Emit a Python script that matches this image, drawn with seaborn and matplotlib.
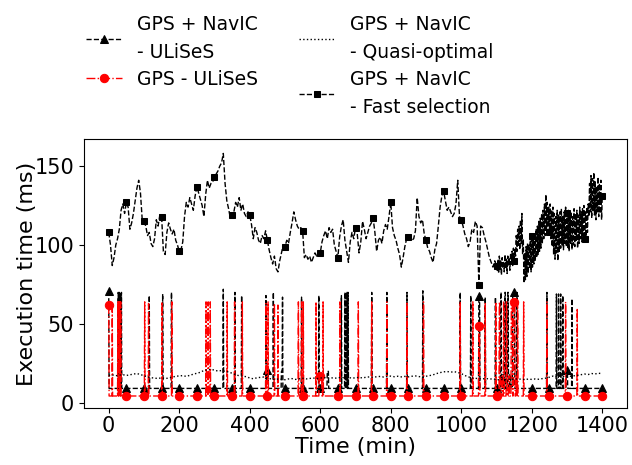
import numpy as np
import pandas as pd
import matplotlib
matplotlib.use("Agg")
import matplotlib.pyplot as plt
import seaborn as sns

sns.set_style("ticks", {"axes.edgecolor": "black", "xtick.color": "black",
                        "ytick.color": "black", "text.color": "black",
                        "axes.labelcolor": "black"})
plt.rcParams["font.family"] = ["DejaVu Sans"]

# ---- data ----
minutes = np.arange(0, 1401)  # 1-minute samples

# GPS + NavIC - ULiSeS: baseline + spike events (start min, length min, value ms)
navic_base = 9.2
navic_ev_start = [0, 27, 30, 33, 36, 115, 153, 178, 325, 358, 377, 446, 448, 467,
                  490, 493, 547, 596, 620, 660, 670, 673, 676, 679, 746, 789, 846,
                  891, 997, 1027, 1050, 1068, 1097, 1112, 1118, 1124, 1132, 1138,
                  1146, 1158, 1243, 1270, 1276, 1282, 1288, 1298, 1314]
navic_ev_len = [1] * 12 + [5, 1, 4, 1, 1, 1, 4] + [1] * 11 + [3, 1, 1] + \
               [2, 3, 2, 2, 3, 6, 1] + [1] * 5 + [4, 1]
navic_ev_val = [71, 70, 70, 69, 70, 68, 69, 70, 72, 70, 68, 68, 21, 70, 20, 67, 67,
                68, 20, 68, 70, 70, 70, 70, 70, 70, 70, 71, 70, 68, 68, 67, 67,
                70, 18, 70, 70, 18, 70, 70, 70, 69, 69, 69, 68, 21, 66]

# GPS - ULiSeS
gps_base = 4.4
gps_ev_start = [0, 10, 26, 28, 30, 32, 34, 102, 113, 151, 179, 276, 282, 288, 336,
                357, 379, 446, 452, 470, 480, 538, 547, 552, 588, 597, 608, 656, 708,
                746, 789, 846, 893, 997, 1033, 1050, 1068, 1098, 1108, 1114, 1120,
                1128, 1134, 1142, 1148, 1156, 1160, 1177, 1243, 1296, 1329]
gps_ev_len = [1] * 25 + [8] + [1] * 9 + [3, 1, 1] + [2, 3, 2, 2, 3, 4, 5, 2] + [1] * 5
gps_ev_val = [62, 60, 64, 64, 64, 64, 64, 64, 63, 64, 64, 64, 64, 64, 64, 64, 64,
              63, 64, 63, 62, 64, 64, 64, 64, 17, 64, 64, 64, 64, 64, 64, 64, 64,
              64, 49, 63, 64, 64, 17, 64, 64, 17, 62, 64, 17, 64, 64, 64, 64, 60]

# GPS + NavIC - Quasi-optimal, every 10 min
quasi_t = np.arange(0, 1401, 10)
quasi_val = [17.5, 17.8, 17.2, 17.6, 17.9, 17.4, 17.8,
             18.3, 18.6, 18.0, 17.2, 16.5, 16.0, 15.7,
             15.5, 15.9, 15.4, 15.8, 16.3, 16.9, 17.1,
             17.3, 16.8, 17.5, 18.2, 18.8, 19.4, 20.6,
             20.9, 21.4, 20.7, 20.2, 20.5, 20.0, 19.6,
             18.8, 17.9, 17.2, 17.0, 16.6, 15.8, 15.3,
             15.9, 16.2, 16.4, 15.9, 15.2, 14.8, 15.1,
             15.0, 14.7, 15.2, 15.4, 14.9, 15.3, 15.6,
             15.2, 15.5, 15.8, 15.4, 15.7, 16.1, 15.8,
             16.0, 15.6, 15.9, 16.2, 15.8, 16.1, 15.7,
             15.9, 16.2, 15.8, 16.3, 16.5, 16.2, 16.6,
             16.8, 16.4, 16.7, 17.0, 16.6, 16.9, 16.5,
             16.8, 16.5, 16.9, 17.1, 16.7, 16.4, 16.9,
             17.3, 17.8, 18.6, 19.2, 19.7, 19.9, 19.5,
             19.8, 19.3, 18.6, 17.4, 16.5, 15.9, 15.6,
             15.4, 15.2, 15.5, 15.1, 15.3, 14.8, 14.6,
             15.0, 14.7, 15.2, 14.9, 15.3, 15.0, 14.8,
             15.1, 14.9, 15.2, 15.0, 15.4, 15.7, 16.3,
             17.0, 16.6, 17.3, 16.8, 17.4, 16.9, 17.2,
             17.5, 17.9, 18.3, 18.0, 18.6, 18.4, 18.8,
             18.5]

# GPS + NavIC - Fast selection: every 5 min up to 1100, then every 2 min
fast_t = np.concatenate([np.arange(0, 1101, 5), np.arange(1102, 1401, 2)])
fast_val = [108, 100, 87, 92, 100, 104, 110, 122, 126, 120,
            127, 124, 110, 114, 120, 128, 136, 141, 133, 116,
            115, 112, 106, 108, 101, 99, 104, 116, 112, 119,
            118, 96, 94, 108, 114, 110, 107, 110, 103, 100,
            96, 97, 102, 118, 127, 124, 130, 126, 122, 131,
            137, 133, 129, 125, 118, 132, 141, 136, 139, 140,
            143, 145, 147, 150, 152, 158, 139, 128, 123, 117,
            119, 121, 127, 124, 130, 122, 126, 120, 118, 121,
            119, 113, 104, 111, 108, 103, 101, 106, 104, 109,
            103, 97, 92, 88, 93, 85, 83, 90, 95, 100,
            99, 103, 101, 108, 114, 121, 116, 112, 110, 111,
            109, 92, 94, 91, 93, 89, 92, 95, 93, 96,
            95, 102, 106, 109, 104, 111, 108, 110, 100, 96,
            92, 105, 112, 116, 103, 96, 89, 102, 108, 104,
            111, 107, 95, 102, 115, 110, 104, 108, 112, 114,
            117, 108, 96, 103, 105, 101, 109, 113, 110, 118,
            127, 111, 106, 103, 98, 94, 86, 92, 99, 104,
            105, 106, 103, 104, 109, 130, 118, 114, 116, 107,
            103, 98, 96, 92, 89, 97, 101, 112, 124, 131,
            134, 128, 122, 124, 121, 118, 120, 126, 141, 118,
            116, 112, 107, 104, 99, 102, 110, 108, 115, 112,
            75, 112, 111, 106, 102, 97, 92, 89, 86, 90, 87,
            # dense part 1102..1400
            84, 91, 82, 93, 85, 90, 81, 92, 86, 89,
            83, 94, 85, 91, 82, 93, 87, 92, 84, 95,
            88, 96, 87, 98, 90, 97, 93, 106, 96, 110,
            99, 112, 97, 116, 101, 120, 94, 104, 76, 95,
            78, 99, 80, 101, 82, 100, 85, 103, 83, 106,
            86, 104, 88, 108, 90, 110, 92, 112, 94, 115,
            96, 117, 98, 120, 101, 122, 104, 126, 106, 132,
            110, 127, 112, 124, 108, 126, 104, 122, 99, 124,
            94, 120, 91, 118, 95, 122, 90, 119, 96, 121,
            98, 123, 100, 118, 97, 121, 101, 124, 99, 120,
            98, 122, 96, 119, 101, 121, 97, 118, 100, 123,
            99, 120, 103, 122, 98, 119, 101, 124, 104, 121,
            102, 123, 106, 125, 104, 121, 103, 124, 108, 126,
            118, 139, 121, 144, 117, 142, 122, 146, 119, 140,
            116, 137, 121, 143, 118, 139, 120, 141, 116, 131]


def build(base, starts, lens, vals):
    y = np.full(len(minutes), base, dtype=float)
    for s, l, v in zip(starts, lens, vals):
        y[s:s + l] = v
    return y


assert len(navic_ev_start) == len(navic_ev_len) == len(navic_ev_val)
assert len(gps_ev_start) == len(gps_ev_len) == len(gps_ev_val)
assert len(fast_t) == len(fast_val)

df_navic = pd.DataFrame({"t": minutes, "ms": build(navic_base, navic_ev_start, navic_ev_len, navic_ev_val)})
df_gps = pd.DataFrame({"t": minutes, "ms": build(gps_base, gps_ev_start, gps_ev_len, gps_ev_val)})
df_quasi = pd.DataFrame({"t": quasi_t, "ms": quasi_val})
df_fast = pd.DataFrame({"t": fast_t, "ms": fast_val})
fast_marks = list(np.where(df_fast["t"] % 50 == 0)[0])

# ---- plot ----
fig = plt.figure(figsize=(6.32, 4.65), dpi=100)
ax = fig.add_axes([0.133, 0.1226, 0.859, 0.578])

common = dict(ax=ax, estimator=None, sort=False, lw=1)
sns.lineplot(data=df_navic, x="t", y="ms", color="black", linestyle="--",
             marker="^", markersize=6, markevery=50, markeredgecolor="black",
             label="GPS + NavIC\n- ULiSeS", **common)
sns.lineplot(data=df_gps, x="t", y="ms", color="red", linestyle="-.",
             marker="o", markersize=6, markevery=50, markeredgecolor="red",
             label="GPS - ULiSeS", **common)
sns.lineplot(data=df_quasi, x="t", y="ms", color="black", linestyle=":",
             label="GPS + NavIC\n- Quasi-optimal", **common)
sns.lineplot(data=df_fast, x="t", y="ms", color="black", linestyle="--",
             marker="s", markersize=5, markevery=fast_marks, markeredgecolor="black",
             label="GPS + NavIC\n- Fast selection", **common)

ax.set_xlim(-70, 1470)
ax.set_ylim(-3.2, 167)
ax.set_xticks([0, 200, 400, 600, 800, 1000, 1200, 1400])
ax.set_yticks([0, 50, 100, 150])
ax.tick_params(labelsize=15)
ax.tick_params(axis="x", pad=2)
ax.set_xlabel("Time (min)", fontsize=16, labelpad=1)
ax.set_ylabel("Execution time (ms)", fontsize=16, labelpad=-1.5)

handles, labels = ax.get_legend_handles_labels()
leg = ax.legend(handles, labels, loc="upper left", bbox_to_anchor=(0.110, 1.005),
                bbox_transform=fig.transFigure, ncol=2, frameon=False, fontsize=13.5,
                handlelength=1.9, handletextpad=0.8, labelspacing=0.45,
                columnspacing=2.2)
for txt in leg.get_texts():
    txt.set_linespacing(1.6)

fig.savefig("out.png", dpi=100)
